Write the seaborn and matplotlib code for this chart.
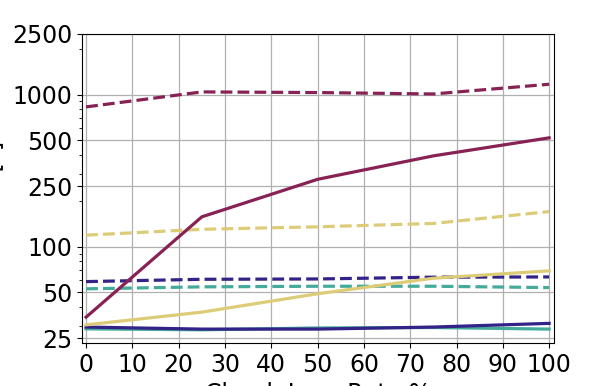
import pandas as pd
import matplotlib
matplotlib.use("Agg")
import matplotlib.pyplot as plt
import matplotlib.ticker as mticker
import seaborn as sns

loss_rate = [0, 25, 50, 75, 100]
methods = ["A", "B", "C", "D"]
modes = ["solid", "dashed"]

# values (log axis)
wine_dashed = [829, 1040, 1030, 1008, 1168]
wine_solid = [34.4, 157, 277, 395, 519]
sand_dashed = [119, 130, 135, 142, 170]
sand_solid = [30.6, 37.1, 49, 62, 69.3]
indigo_dashed = [58.9, 61, 61.3, 63, 63.2]
indigo_solid = [29.6, 28.7, 28.7, 29.6, 31.3]
teal_dashed = [52.8, 54.4, 54.9, 54.9, 53.8]
teal_solid = [28.8, 28.4, 29.2, 29.4, 28.7]

yticks = [25, 50, 100, 250, 500, 1000, 2500]
xticks = [0, 10, 20, 30, 40, 50, 60, 70, 80, 90, 100]

series = {
    ("C", "solid"): teal_solid,
    ("A", "solid"): indigo_solid,
    ("D", "solid"): sand_solid,
    ("C", "dashed"): teal_dashed,
    ("A", "dashed"): indigo_dashed,
    ("D", "dashed"): sand_dashed,
    ("B", "dashed"): wine_dashed,
    ("B", "solid"): wine_solid,
}
rows = []
for (m, mode), vals in series.items():
    for x, v in zip(loss_rate, vals):
        rows.append({"Chunk Loss Rate %": x, "value": v, "method": m, "mode": mode})
df = pd.DataFrame(rows)

palette = {"A": "#332288", "B": "#882255", "C": "#44AA99", "D": "#DDCC77"}
dashes = {"solid": "", "dashed": (3.7, 1.6)}

plt.rcParams["font.family"] = ["DejaVu Sans"]
plt.rcParams["font.size"] = 17

fig = plt.figure(figsize=(5.98, 3.86), dpi=100)
ax = fig.add_axes([0.137, 0.111, 0.789, 0.801])

sns.lineplot(data=df, x="Chunk Loss Rate %", y="value", hue="method", style="mode",
             palette=palette, dashes=dashes, linewidth=2.3, legend=False, ax=ax,
             estimator=None, sort=True)

ax.set_yscale("log")
ax.set_ylim(23.2, 2500)
ax.set_xlim(-0.9, 101)
ax.set_yticks(yticks)
ax.yaxis.set_major_formatter(mticker.FixedFormatter([str(t) for t in yticks]))
ax.yaxis.set_minor_formatter(mticker.NullFormatter())
ax.set_xticks(xticks)
ax.grid(True, which="major", color="#b0b0b0", linewidth=0.9)
ax.set_axisbelow(True)

ax.set_xlabel("Chunk Loss Rate %")
ax.set_ylabel("Time [s]")
ax.yaxis.set_label_coords(-0.1655, 0.5)

fig.savefig("out.png", dpi=100)
